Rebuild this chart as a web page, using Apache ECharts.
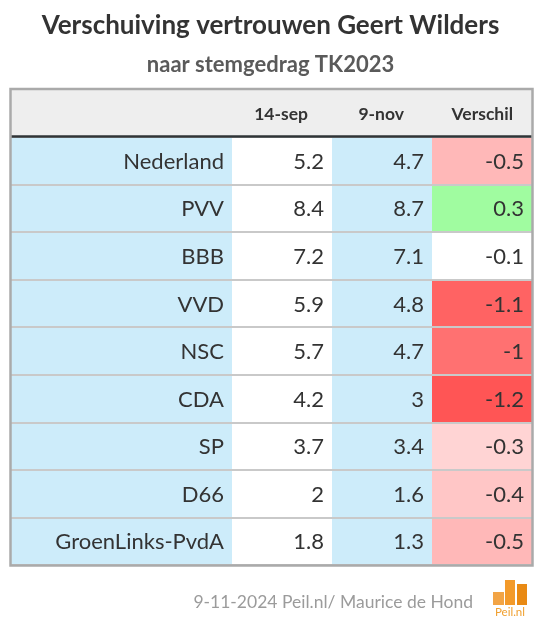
<!DOCTYPE html>
<html>
<head>
<meta charset="utf-8">
<script src="https://cdn.jsdelivr.net/npm/echarts@6/dist/echarts.min.js"></script>
<style>
html,body{margin:0;padding:0;background:#fff;}
#c{width:541px;height:641px;}
</style>
</head>
<body>
<div id="c"></div>
<script>
// ---- data ----
const titleText = 'Verschuiving vertrouwen Geert Wilders';
const subtitleText = 'naar stemgedrag TK2023';
const columnHeaders = ['14-sep', '9-nov', 'Verschil'];
const parties = ['Nederland', 'PVV', 'BBB', 'VVD', 'NSC', 'CDA', 'SP', 'D66', 'GroenLinks-PvdA'];
const sep14 = [5.2, 8.4, 7.2, 5.9, 5.7, 4.2, 3.7, 2, 1.8];
const nov9 = [4.7, 8.7, 7.1, 4.8, 4.7, 3, 3.4, 1.6, 1.3];
const verschil = [-0.5, 0.3, -0.1, -1.1, -1, -1.2, -0.3, -0.4, -0.5];
const footerText = '9-11-2024 Peil.nl/ Maurice de Hond';
const logoText = 'Peil.nl';

// ---- layout / style ----
const FONT = 'Lato';
const GRID = {left: 11, top: 137, width: 521, height: 428};
const colEdges = [0, 221, 321, 421, 521];
const headerRightPad = [24, 28, 19];
const BLUE = '#cdecfa';

function diffColor(v) {
  if (Math.abs(v) < 0.15) return '#ffffff';
  if (v < 0) {
    const g = Math.max(0, Math.round(255 - 142 * Math.abs(v)));
    return 'rgb(255,' + g + ',' + g + ')';
  }
  const r = Math.max(0, Math.round(255 - 317 * v));
  return 'rgb(' + r + ',252,' + r + ')';
}
function cellFill(col, row) {
  if (col === 0) return BLUE;
  if (col === 1) return '#ffffff';
  if (col === 2) return BLUE;
  return diffColor(verschil[row]);
}

const cellData = [];
const cellText = [];
parties.forEach((p, i) => {
  cellData.push([0, i, 0]); cellText.push(p);
  cellData.push([1, i, sep14[i]]); cellText.push(String(sep14[i]));
  cellData.push([2, i, nov9[i]]); cellText.push(String(nov9[i]));
  cellData.push([3, i, verschil[i]]); cellText.push(String(verschil[i]));
});

const chart = echarts.init(document.getElementById('c'), null, {renderer: 'canvas'});

const tableRight = GRID.left + GRID.width;
const headerTop = 90, headerBottom = GRID.top;

const graphics = [
  {type: 'rect', z: 1, shape: {x: GRID.left, y: headerTop, width: GRID.width, height: headerBottom - headerTop}, style: {fill: '#eeeeee'}},
  {type: 'line', z: 20, shape: {x1: GRID.left, y1: headerBottom - 0.5, x2: tableRight, y2: headerBottom - 0.5}, style: {stroke: '#2f3437', lineWidth: 2.5}},
  {type: 'rect', z: 20, shape: {x: GRID.left - 0.5, y: headerTop - 1, width: GRID.width + 1, height: GRID.top + GRID.height - headerTop + 1.5}, style: {fill: null, stroke: '#aaaaaa', lineWidth: 2.5}},
  {type: 'text', z: 20, x: 473, y: 602, style: {text: footerText, align: 'right', verticalAlign: 'middle', fill: '#9b9b9b', font: '17.5px ' + FONT}},
  {type: 'rect', z: 20, shape: {x: 493, y: 592, width: 11, height: 13}, style: {fill: '#f2a445'}},
  {type: 'rect', z: 20, shape: {x: 505, y: 580, width: 10, height: 25}, style: {fill: '#f39a2a'}},
  {type: 'rect', z: 20, shape: {x: 517, y: 584, width: 10, height: 21}, style: {fill: '#e98a14'}},
  {type: 'text', z: 20, x: 510, y: 612, style: {text: logoText, align: 'center', verticalAlign: 'middle', fill: '#f0a030', font: '11.5px ' + FONT}}
];
columnHeaders.forEach((h, j) => {
  graphics.push({type: 'text', z: 20, x: GRID.left + colEdges[j + 2] - headerRightPad[j], y: (headerTop + headerBottom) / 2 + 1,
    style: {text: h, align: 'right', verticalAlign: 'middle', fill: '#333333', font: 'bold 17.5px ' + FONT}});
});

chart.setOption({
  animation: false,
  backgroundColor: '#ffffff',
  title: [
    {text: titleText, left: 'center', top: 8, textStyle: {fontFamily: FONT, fontWeight: 'bold', fontSize: 26, color: '#333333'}},
    {text: subtitleText, left: 'center', top: 49, textStyle: {fontFamily: FONT, fontWeight: 'bold', fontSize: 22, color: '#5a5a5a'}}
  ],
  graphic: graphics,
  grid: {left: GRID.left, top: GRID.top, width: GRID.width, height: GRID.height, containLabel: false},
  xAxis: {type: 'value', min: 0, max: colEdges[colEdges.length - 1], show: false},
  yAxis: {
    type: 'category', data: parties, inverse: true, z: 10,
    axisLine: {show: false}, axisTick: {show: false}, axisLabel: {show: false},
    splitLine: {show: true, lineStyle: {color: '#c9c9c9', width: 2}}
  },
  series: [{
    type: 'custom',
    data: cellData,
    encode: {x: 0, y: 1},
    renderItem: function (params, api) {
      const col = api.value(0);
      const row = api.value(1);
      const p0 = api.coord([colEdges[col], row]);
      const p1 = api.coord([colEdges[col + 1], row]);
      const h = api.size([0, 1])[1];
      const pad = col === 0 ? 8 : 8;
      return {
        type: 'group',
        children: [
          {type: 'rect', shape: {x: p0[0], y: p0[1] - h / 2, width: p1[0] - p0[0], height: h}, style: {fill: cellFill(col, row)}},
          {type: 'text', x: p1[0] - pad, y: p0[1] + 1, style: {text: cellText[params.dataIndex], align: 'right', verticalAlign: 'middle', fill: '#333333', font: '22px ' + FONT}}
        ]
      };
    }
  }]
});
</script>
</body>
</html>
